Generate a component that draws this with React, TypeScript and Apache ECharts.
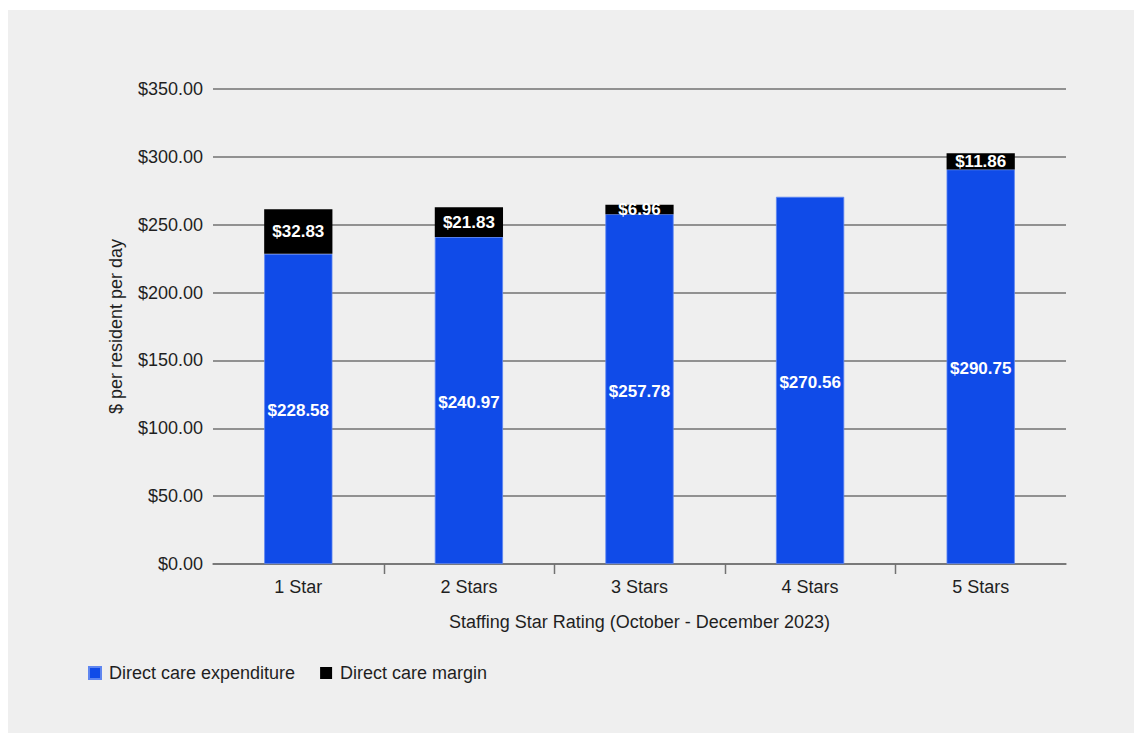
import React, { useEffect, useRef } from "react";
import * as echarts from "echarts";

// Staffing star rating categories
const categories = ["1 Star", "2 Stars", "3 Stars", "4 Stars", "5 Stars"];
// Direct care expenditure, $ per resident per day
const expenditure = [228.58, 240.97, 257.78, 270.56, 290.75];
// Direct care margin, $ per resident per day
const margin = [32.83, 21.83, 6.96, -0.5, 11.86];

const yMin = 0;
const yMax = 350;
const yInterval = 50;

const FONT = "'Liberation Sans', Arial, sans-serif";
const BLUE = "#104BE8";
const GRID_GRAY = "#727272";
const TEXT = "#1f1f1f";

const money = (v: number) => "$" + v.toFixed(2);

export default function App() {
  const ref = useRef<HTMLDivElement>(null);

  useEffect(() => {
    if (!ref.current) return;
    const chart = echarts.init(ref.current, undefined, { renderer: "svg" });

    chart.setOption({
      animation: false,
      backgroundColor: "#efefef",
      textStyle: { fontFamily: FONT },
      grid: { left: 205, right: 68, top: 79, bottom: 169 },
      legend: {
        left: 75,
        top: 649,
        itemWidth: 12,
        itemHeight: 12,
        itemGap: 25,
        icon: "rect",
        textStyle: {
          fontSize: 18,
          color: TEXT,
          fontFamily: FONT,
          padding: [0, 0, 0, 3],
        },
        data: ["Direct care expenditure", "Direct care margin"],
      },
      xAxis: {
        type: "category",
        data: categories,
        name: "Staffing Star Rating (October - December 2023)",
        nameLocation: "middle",
        nameGap: 49,
        nameTextStyle: { fontSize: 18, color: TEXT, fontFamily: FONT },
        axisLine: { lineStyle: { color: GRID_GRAY, width: 1.5 } },
        axisTick: { show: false },
        axisLabel: { fontSize: 18, color: TEXT, margin: 14, fontFamily: FONT },
      },
      yAxis: {
        type: "value",
        min: yMin,
        max: yMax,
        interval: yInterval,
        name: "$ per resident per day",
        nameLocation: "middle",
        nameGap: 88,
        nameTextStyle: { fontSize: 18, color: TEXT, fontFamily: FONT },
        axisLine: { show: false },
        axisTick: { show: false },
        axisLabel: {
          fontSize: 18,
          color: TEXT,
          margin: 10,
          fontFamily: FONT,
          formatter: (v: number) => money(v),
        },
        splitLine: { lineStyle: { color: GRID_GRAY, width: 1.5 } },
      },
      series: [
        {
          name: "Direct care expenditure",
          type: "bar",
          stack: "total",
          barWidth: "40%",
          data: expenditure,
          itemStyle: { color: BLUE, borderColor: "#5f86f0", borderWidth: 0.8 },
          label: {
            show: true,
            position: "inside",
            offset: [0, 2],
            color: "#ffffff",
            fontWeight: "bold",
            fontSize: 17,
            fontFamily: FONT,
            formatter: (p: any) => money(p.value),
          },
        },
        {
          name: "Direct care margin",
          type: "bar",
          stack: "total",
          barWidth: "40%",
          data: margin.map((v) => ({
            value: v,
            label: { show: v > 0 },
          })),
          itemStyle: { color: "#000000" },
          label: {
            show: true,
            position: "inside",
            color: "#ffffff",
            fontWeight: "bold",
            fontSize: 17,
            fontFamily: FONT,
            formatter: (p: any) => money(p.value),
          },
        },
      ],
    });

    // Tick marks between categories only (no ticks at the axis ends)
    const y0 = chart.convertToPixel({ yAxisIndex: 0 }, 0) as number;
    const ticks: any[] = [];
    for (let i = 0; i < categories.length - 1; i++) {
      const a = chart.convertToPixel({ xAxisIndex: 0 }, i) as number;
      const b = chart.convertToPixel({ xAxisIndex: 0 }, i + 1) as number;
      const x = Math.round((a + b) / 2) + 0.5;
      ticks.push({
        type: "line",
        shape: { x1: x, y1: y0, x2: x, y2: y0 + 10 },
        style: { stroke: GRID_GRAY, lineWidth: 1.5 },
        silent: true,
      });
    }
    chart.setOption({ graphic: ticks });

    return () => chart.dispose();
  }, []);

  return (
    <div
      ref={ref}
      style={{ position: "fixed", left: 8, top: 10, width: 1126, height: 723 }}
    />
  );
}
